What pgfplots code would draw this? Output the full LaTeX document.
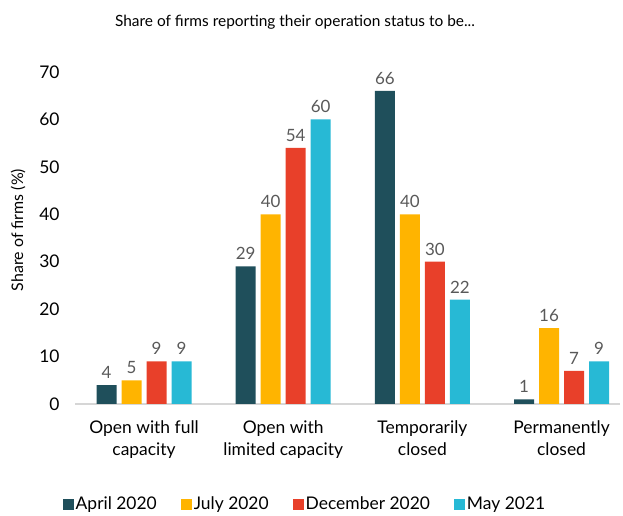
\documentclass[border=0pt]{standalone}
\usepackage{pgfplots}
\pgfplotsset{compat=1.18}
\usepackage{fontspec}
\setmainfont{Lato}
\definecolor{cA}{HTML}{1F4F5B}
\definecolor{cB}{HTML}{FFB400}
\definecolor{cC}{HTML}{E8402A}
\definecolor{cD}{HTML}{27B9D5}
\definecolor{lbl}{HTML}{595959}
\begin{document}
\begin{tikzpicture}[x=1bp,y=1bp]
\path[use as bounding box] (0,0) rectangle (623,516);
\begin{axis}[
  at={(75bp,112bp)}, anchor=south west,
  scale only axis, width=545bp, height=332bp,
  ybar=5bp, bar width=20bp,
  xmin=-0.496, xmax=3.42, ymin=0, ymax=70,
  xtick=data,
  xticklabels={{Open with full\\capacity},{Open with\\limited capacity},{Temporarily\\closed},{Permanently\\closed}},
  xticklabel style={align=center, font=\fontsize{17.5}{22}\selectfont, text=black, yshift=-9bp},
  ytick={0,10,...,70},
  yticklabel style={font=\fontsize{17.5}{18}\selectfont, text=black, xshift=-12bp},
  /pgf/number format/assume math mode=true,
  axis x line*=bottom, axis y line*=left,
  y axis line style={draw=none},
  x axis line style={draw=black!16, line width=2bp},
  tick style={draw=none},
  ylabel={Share of firms (\%)},
  every axis y label/.style={at={(axis description cs:-0.1046,0.524)}, rotate=90, anchor=center, font=\fontsize{16}{18}\selectfont},
  nodes near coords,
  nodes near coords style={font=\fontsize{17}{19}\selectfont, text=lbl, yshift=3bp},
  legend columns=4,
  legend style={at={(0.422,-0.302)}, anchor=center, draw=none, fill=none,
    font=\fontsize{17.5}{18}\selectfont, column sep=0bp,
    nodes={inner xsep=2bp, inner ysep=1bp},
    /tikz/every even column/.append style={column sep=22bp}},
  legend image code/.code={\fill[#1] (2bp,-5.5bp) rectangle (13bp,5.5bp);},
  clip=false,
]
\addplot[fill=cA, draw=none] coordinates {(0,4) (1,29) (2,66) (3,1)};
\addplot[fill=cB, draw=none] coordinates {(0,5) (1,40) (2,40) (3,16)};
\addplot[fill=cC, draw=none] coordinates {(0,9) (1,54) (2,30) (3,7)};
\addplot[fill=cD, draw=none] coordinates {(0,9) (1,60) (2,22) (3,9)};
\legend{April 2020,July 2020,December 2020,May 2021}
\end{axis}
\node[font=\fontsize{15.5}{17}\selectfont] at (295bp,494bp) {Share of firms reporting their operation status to be...};
\end{tikzpicture}
\end{document}
